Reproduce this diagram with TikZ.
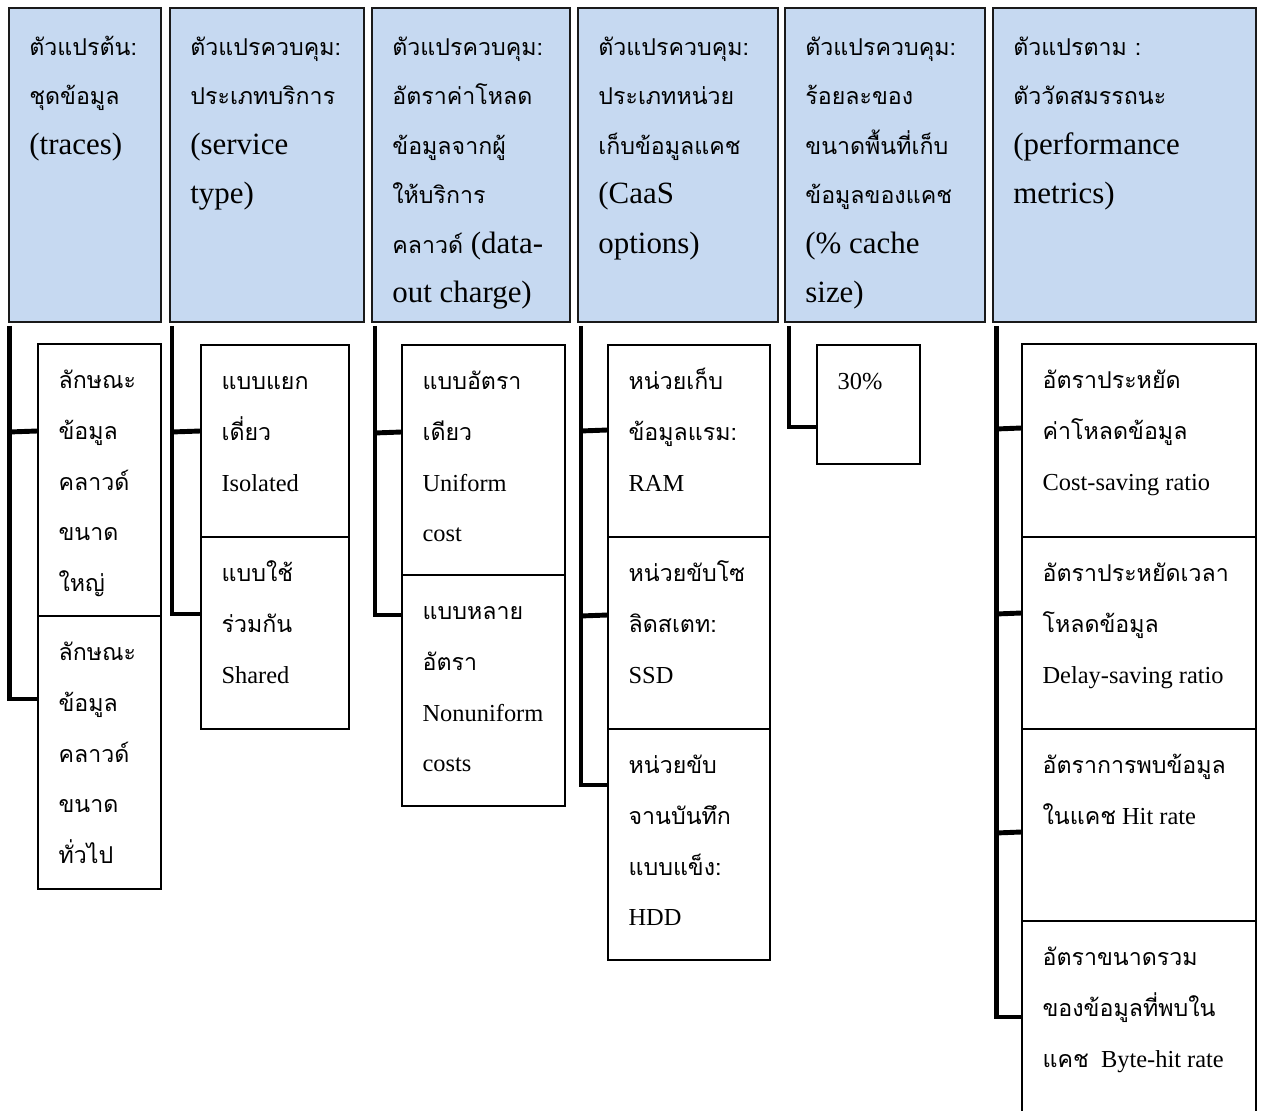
\documentclass[tikz,border=0pt]{standalone}
\usepackage{fontspec}
\setmainfont{Liberation Serif}
\newfontfamily\thaifont[Script=Thai]{Loma}
\usetikzlibrary{calc,fit}

\definecolor{hdrblue}{HTML}{C6D9F1}
\definecolor{hdrline}{HTML}{1A1A1A}

% font sizes for header and child boxes
\newcommand\hfont{\fontsize{17.6}{28.2}\selectfont}
\newcommand\cfont{\fontsize{13.9}{28.9}\selectfont}
\newcommand\thaisz{13.2}
\newcommand\T[1]{{\thaifont\fontsize{\thaisz}{20}\selectfont #1}}
% fixed-height strut so the first baseline sits at a known depth
\newcommand\fl{\rule{0pt}{17pt}}

\begin{document}
\begin{tikzpicture}[x=0.02cm,y=-0.02cm,
  hdr/.style={draw=hdrline, line width=1.1pt, fill=hdrblue, inner sep=0pt},
  child/.style={draw=black, line width=0.85pt, inner sep=0pt},
  htxt/.style={anchor=north west, inner sep=0pt, align=left, font=\hfont},
  ctxt/.style={anchor=north west, inner sep=0pt, align=left, font=\cfont},
  bar/.style={draw=black, line width=2.8pt, line join=miter}]

\clip (0,0) rectangle (1262,1110);

% ---------- header boxes ----------
\node[hdr, fit={(9,8) (161,322)}]    (h1) {};
\node[hdr, fit={(170,8) (364,322)}]  (h2) {};
\node[hdr, fit={(372,8) (570,322)}]  (h3) {};
\node[hdr, fit={(578,8) (778,322)}]  (h4) {};
\node[hdr, fit={(785,8) (985,322)}]  (h5) {};
\node[hdr, fit={(993,8) (1256,322)}] (h6) {};

\node[htxt] (ht1) at ($(h1.north west)+(21,18)$)
  {\fl\T{ตัวแปรต้น:}\\\T{ชุดข้อมูล}\\(traces)};
\node[htxt] (ht2) at ($(h2.north west)+(21,18)$)
  {\fl\T{ตัวแปรควบคุม:}\\\T{ประเภทบริการ}\\(service\\type)};
\node[htxt] (ht3) at ($(h3.north west)+(21,18)$)
  {\fl\T{ตัวแปรควบคุม:}\\\T{อัตราค่าโหลด}\\\T{ข้อมูลจากผู้}\\\T{ให้บริการ}\\\T{คลาวด์} (data-\\out charge)};
\node[htxt] (ht4) at ($(h4.north west)+(21,18)$)
  {\fl\T{ตัวแปรควบคุม:}\\\T{ประเภทหน่วย}\\\T{เก็บข้อมูลแคช}\\(CaaS\\options)};
\node[htxt] (ht5) at ($(h5.north west)+(21,18)$)
  {\fl\T{ตัวแปรควบคุม:}\\\T{ร้อยละของ}\\\T{ขนาดพื้นที่เก็บ}\\\T{ข้อมูลของแคช}\\(\% cache\\size)};
\node[htxt] (ht6) at ($(h6.north west)+(21,18)$)
  {\fl\T{ตัวแปรตาม :}\\\T{ตัววัดสมรรถนะ}\\(performance\\metrics)};

% ---------- child boxes ----------
\node[child, fit={(38,344) (161,616)}]    (c1a) {};
\node[child, fit={(38,616) (161,889)}]    (c1b) {};
\node[child, fit={(201,345) (349,537)}]   (c2a) {};
\node[child, fit={(201,537) (349,729)}]   (c2b) {};
\node[child, fit={(402,345) (565,575)}]   (c3a) {};
\node[child, fit={(402,575) (565,806)}]   (c3b) {};
\node[child, fit={(608,345) (770,537)}]   (c4a) {};
\node[child, fit={(608,537) (770,729)}]   (c4b) {};
\node[child, fit={(608,729) (770,960)}]   (c4c) {};
\node[child, fit={(817,345) (920,464)}]   (c5)  {};
\node[child, fit={(1022,344) (1256,537)}] (c6a) {};
\node[child, fit={(1022,537) (1256,729)}] (c6b) {};
\node[child, fit={(1022,729) (1256,921)}] (c6c) {};
\node[child, fit={(1022,921) (1256,1140)}] (c6d) {};

\node[ctxt] (ct1a) at ($(c1a.north west)+(21,15)$) {\fl\T{ลักษณะ}\\\T{ข้อมูล}\\\T{คลาวด์}\\\T{ขนาด}\\\T{ใหญ่}};
\node[ctxt] (ct1b) at ($(c1b.north west)+(21,15)$) {\fl\T{ลักษณะ}\\\T{ข้อมูล}\\\T{คลาวด์}\\\T{ขนาด}\\\T{ทั่วไป}};
\node[ctxt] (ct2a) at ($(c2a.north west)+(21,15)$) {\fl\T{แบบแยก}\\\T{เดี่ยว}\\Isolated};
\node[ctxt] (ct2b) at ($(c2b.north west)+(21,15)$) {\fl\T{แบบใช้}\\\T{ร่วมกัน}\\Shared};
\node[ctxt] (ct3a) at ($(c3a.north west)+(21,15)$) {\fl\T{แบบอัตรา}\\\T{เดียว}\\Uniform\\cost};
\node[ctxt] (ct3b) at ($(c3b.north west)+(21,15)$) {\fl\T{แบบหลาย}\\\T{อัตรา}\\Nonuniform\\costs};
\node[ctxt] (ct4a) at ($(c4a.north west)+(21,15)$) {\fl\T{หน่วยเก็บ}\\\T{ข้อมูลแรม:}\\RAM};
\node[ctxt] (ct4b) at ($(c4b.north west)+(21,15)$) {\fl\T{หน่วยขับโซ}\\\T{ลิดสเตท:}\\SSD};
\node[ctxt] (ct4c) at ($(c4c.north west)+(21,15)$) {\fl\T{หน่วยขับ}\\\T{จานบันทึก}\\\T{แบบแข็ง:}\\HDD};
\node[ctxt] (ct5)  at ($(c5.north west)+(21,15)$)  {\fl 30\%};
\node[ctxt] (ct6a) at ($(c6a.north west)+(21,15)$) {\fl\T{อัตราประหยัด}\\\T{ค่าโหลดข้อมูล}\\Cost-saving ratio};
\node[ctxt] (ct6b) at ($(c6b.north west)+(21,15)$) {\fl\T{อัตราประหยัดเวลา}\\\T{โหลดข้อมูล}\\Delay-saving ratio};
\node[ctxt] (ct6c) at ($(c6c.north west)+(21,15)$) {\fl\T{อัตราการพบข้อมูล}\\\T{ในแคช} Hit rate};
\node[ctxt] (ct6d) at ($(c6d.north west)+(21,15)$) {\fl\T{อัตราขนาดรวม}\\\T{ของข้อมูลที่พบใน}\\\T{แคช}\ \ Byte-hit rate};

% ---------- tree connectors ----------
% group 1
\draw[bar] ($(h1.south west)+(1.5,3)$) |- (c1b.west |- 0,699);
\draw[bar] ($(h1.south west)+(1.5,109)$) -- (c1a.west |- 0,431);
% group 2
\draw[bar] ($(h2.south west)+(3,3)$) |- (c2b.west |- 0,614);
\draw[bar] ($(h2.south west)+(3,109)$) -- (c2a.west |- 0,431);
% group 3
\draw[bar] ($(h3.south west)+(4,3)$) |- (c3b.west |- 0,615);
\draw[bar] ($(h3.south west)+(4,110)$) -- (c3a.west |- 0,432);
% group 4
\draw[bar] ($(h4.south west)+(4,3)$) |- (c4c.west |- 0,785);
\draw[bar] ($(h4.south west)+(4,108)$) -- (c4a.west |- 0,430);
\draw[bar] ($(h4.south west)+(4,293)$) -- (c4b.west |- 0,615);
% group 5
\draw[bar] ($(h5.south west)+(5,3)$) |- (c5.west |- 0,427);
% group 6
\draw[bar] ($(h6.south west)+(4.5,3)$) |- (c6d.west |- 0,1017);
\draw[bar] ($(h6.south west)+(4.5,106)$) -- (c6a.west |- 0,428);
\draw[bar] ($(h6.south west)+(4.5,291)$) -- (c6b.west |- 0,613);
\draw[bar] ($(h6.south west)+(4.5,510)$) -- (c6c.west |- 0,832);
\end{tikzpicture}
\end{document}
